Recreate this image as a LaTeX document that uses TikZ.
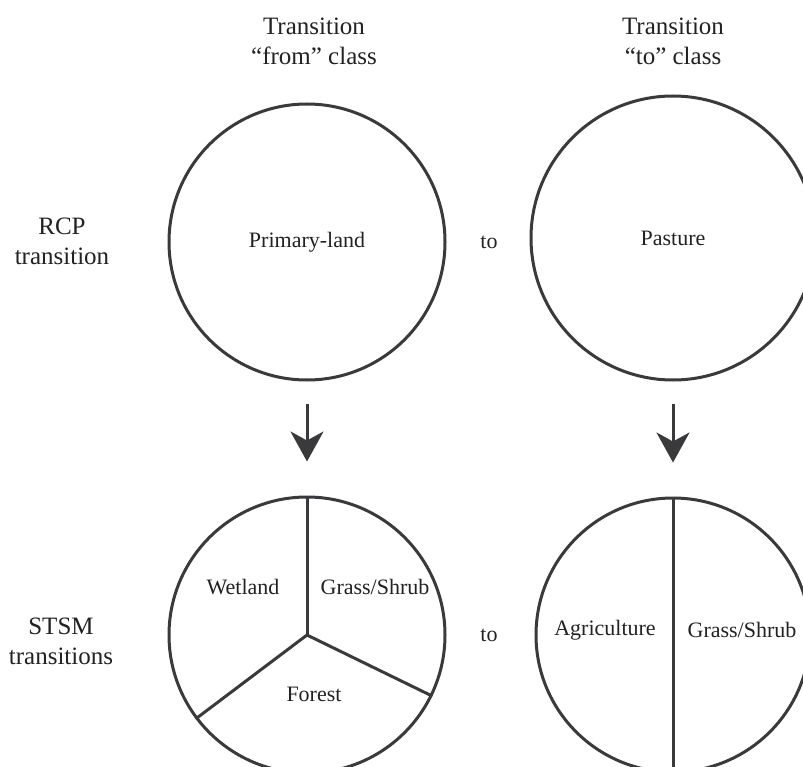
\documentclass[tikz,border=0pt]{standalone}
\usepackage{fontspec}
\setmainfont{Liberation Serif}
\usetikzlibrary{arrows.meta}
\definecolor{ink}{HTML}{3A3A3C}
\definecolor{txt}{HTML}{222222}
\begin{document}
\begin{tikzpicture}[x=1pt,y=-1pt,
  ring/.style={circle, draw=ink, line width=3pt, inner sep=0pt, text=txt, font=\fontsize{22}{26}\selectfont},
  outer/.style={text=txt, font=\fontsize{25}{30}\selectfont, align=center},
  inner/.style={text=txt, font=\fontsize{22}{26}\selectfont},
  divider/.style={draw=ink, line width=3pt},
  flow/.style={draw=ink, line width=3pt, -{Stealth[length=30pt,width=33pt,inset=9pt]}}]
\useasboundingbox (0,0) rectangle (803,767);
\fill[white] (0,0) rectangle (803,767);
\begin{scope}
\clip (0,0) rectangle (803,767);
\node[ring, minimum size=276pt] (tl) at (307,242) {Primary-land};
\node[ring, minimum size=284pt] (tr) at (673,238) {Pasture};
\node[ring, minimum size=276pt] (bl) at (307,635) {};
\node[ring, minimum size=274pt] (br) at (673,635) {};
\draw[divider] (bl.center) -- (bl.90);
\draw[divider] (bl.center) -- (bl.217);
\draw[divider] (bl.center) -- (bl.-26);
\draw[divider] (br.90) -- (br.270);
\end{scope}
\node[inner] (wet) at (243,587) {Wetland};
\node[inner] (gs1) at (375,587) {Grass/Shrub};
\node[inner] (for) at (314,694) {Forest};
\node[inner] (agr) at (605,630) {Agriculture};
\node[inner] (gs2) at (742,630) {Grass/Shrub};
\node[inner] (to1) at (489,242) {to};
\node[inner] (to2) at (489,635) {to};
\node[outer] (hfrom) at (314,41) {Transition\\“from” class};
\node[outer] (hto) at (673,41) {Transition\\“to” class};
\node[outer] (rcp) at (62,241) {RCP\\transition};
\node[outer] (stsm) at (61,641) {STSM\\transitions};
\draw[flow, shorten <=22pt, shorten >=34pt] (tl.south) -- (bl.north);
\draw[flow, shorten <=22pt, shorten >=34pt] (tr.south) -- (br.north);
\end{tikzpicture}
\end{document}
